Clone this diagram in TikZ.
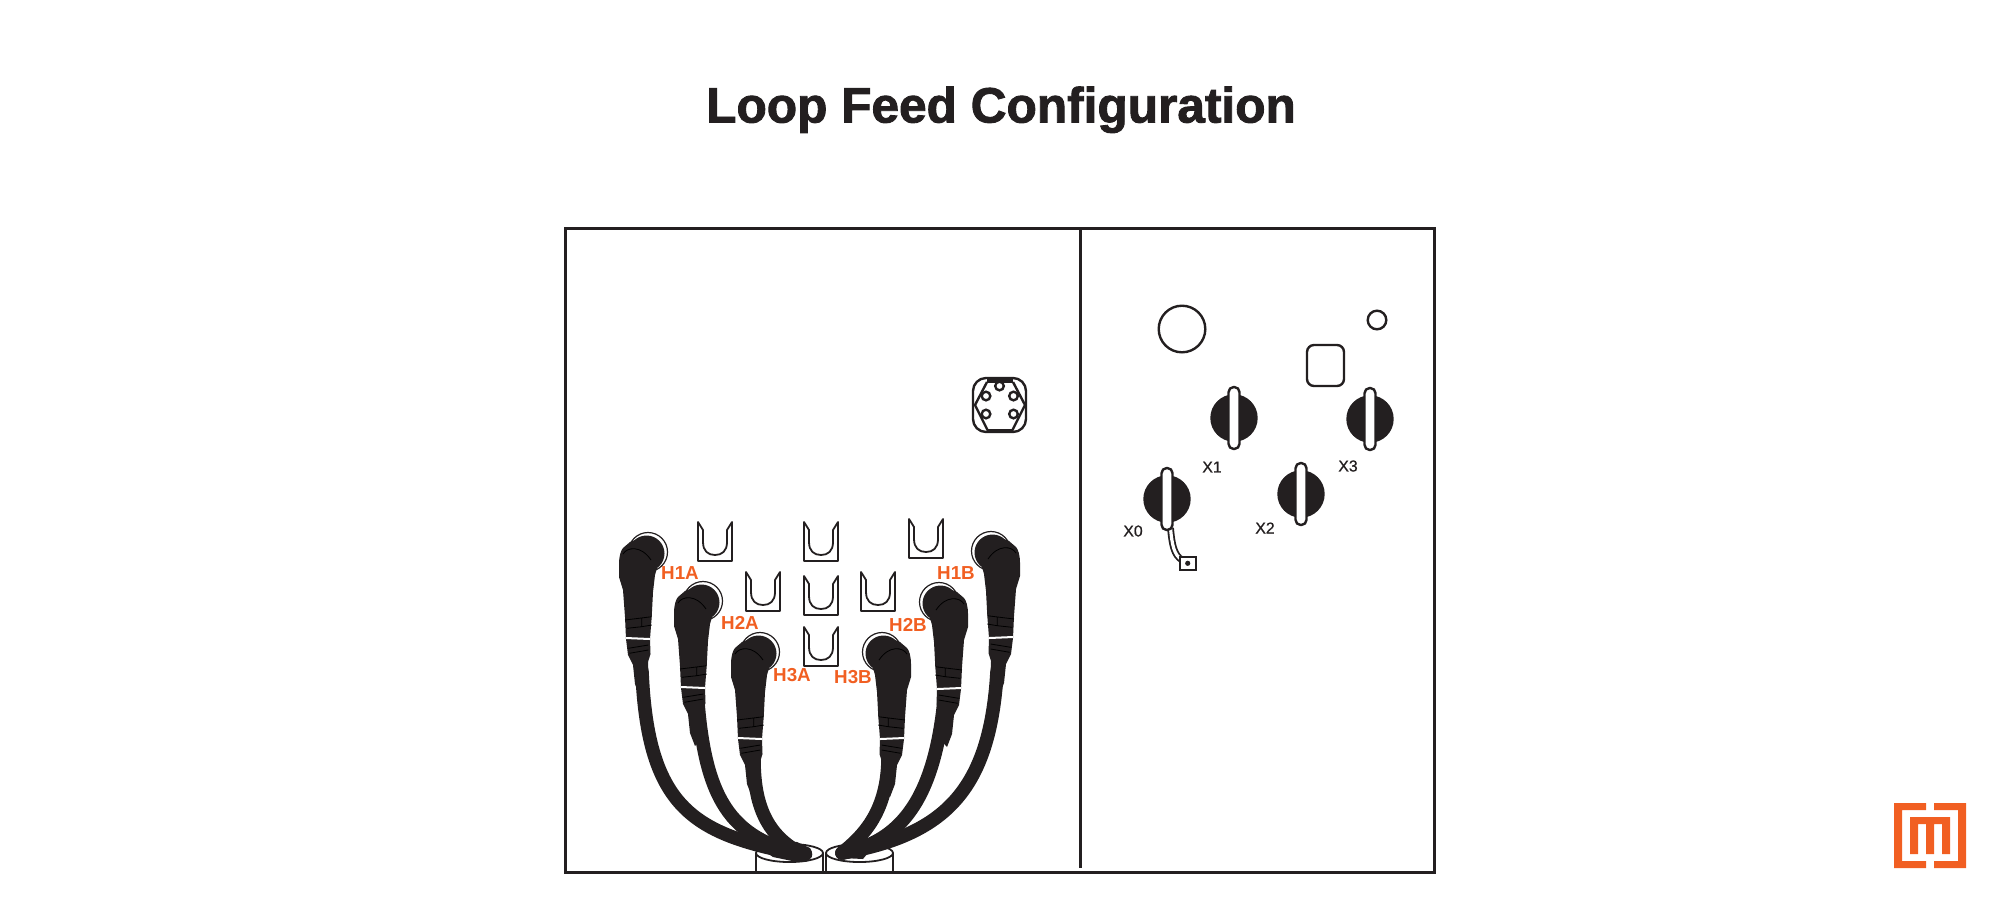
\documentclass[tikz,border=0pt]{standalone}
\usepackage{fontspec}
\setmainfont{Liberation Sans}
\newfontfamily\titlefont{Liberation Sans Bold}[FakeBold=1.8]
\newfontfamily\xtagfont{Liberation Sans}[FakeBold=0.8]
\usetikzlibrary{positioning}

\definecolor{inkblack}{HTML}{231F20}
\definecolor{tagorange}{HTML}{F15F22}

\tikzset{
  panel/.style={draw=inkblack, line width=1.5pt},
  thinline/.style={draw=inkblack, line width=0.9pt},
  outline/.style={draw=inkblack, line width=1.2pt},
  cable/.style={draw=inkblack, line width=6.8pt, line cap=round},
  htag/.style={text=tagorange, font=\fontsize{9.4}{11}\selectfont\bfseries, inner sep=0pt},
  xtag/.style={text=inkblack, font=\fontsize{7.9}{9}\selectfont\xtagfont, inner sep=0pt},
  ubracket/.pic={
    \draw[thinline, line join=round] (-17,0) -- (-17,-39) -- (-12,-31) -- (-12,-19)
      .. controls (-12,-10) and (-7,-6) .. (0,-6)
      .. controls (7,-6) and (12,-10) .. (12,-19)
      -- (12,-31) -- (17,-39) -- (17,0) -- cycle;
  },
  bushing/.pic={
    \fill[inkblack] (0,0) circle (23.7);
    \draw[outline, fill=white, rounded corners=2.6pt] (-5.5,-31) rectangle (5.5,31);
  },
  plug/.pic={
    \draw[inkblack, line width=0.6pt, fill=white] (1,0) circle (19.5);
    \fill[inkblack] (-0.5,1.5) circle (18);
    \fill[inkblack] (-28,12) .. controls (-28,4) and (-26,-2) .. (-24,-4) -- (-17,-10) -- (-4,-15)
      -- (10,16) -- (8,23) -- (6,40) -- (4.7,65) -- (3,87) -- (3.5,102) -- (1,110) -- (2,135)
      -- (-7,145) -- (-12,132) -- (-14,113) -- (-19,103) -- (-21,87) -- (-22,65)
      -- (-24,38) -- (-28,25) -- cycle;
    \draw[black, line width=0.4pt] (-24,2) .. controls (-20,-5) and (-6,-7) .. (4,8);
    \draw[black, line width=0.4pt] (-22,68) -- (4.7,64.7) (-20.3,76.3) -- (-5.3,74.7) -- (4.7,73) (-5.3,66.3) -- (-5.3,74.7);
    \draw[black, line width=0.4pt] (-18.7,96.3) -- (1.3,93) (-17.7,101.3) -- (1.3,98);
    \draw[white, line width=1pt] (-21,86) -- (3,87);
  },
}

\begin{document}
\begin{tikzpicture}[x=0.5pt, y=-0.5pt]
  \useasboundingbox (0,0) rectangle (2000,902);

  \node[anchor=base, text=inkblack, inner sep=0pt] (title) at (1001,122.5) {\fontsize{24.8}{28}\selectfont\titlefont Loop Feed Configuration};

  % cylinders under the tails
  \draw[thinline] (756,872) -- (756,853) (823,853) -- (823,872);
  \draw[thinline] (789.5,853) ellipse (33.5 and 9);
  \draw[thinline] (826,872) -- (826,853) (893,853) -- (893,872);
  \draw[thinline] (859.5,853) ellipse (33.5 and 9);

  \coordinate (tailH1A) at (642,672);
  \coordinate (tailH2A) at (697,690);
  \coordinate (tailH3A) at (754,760);
  \coordinate (tailH1B) at (997,672);
  \coordinate (tailH2B) at (945,690);
  \coordinate (tailH3B) at (888,760);
  \coordinate (endA) at (804,855);
  \coordinate (endB) at (842,853);

  \draw[cable] (tailH1A) .. controls (648,810) and (695,835) .. (endA);
  \draw[cable] (tailH2A) .. controls (704,800) and (730,838) .. (endA);
  \draw[cable] (tailH3A) .. controls (754,810) and (770,838) .. (endA);
  \draw[cable] (tailH1B) .. controls (990,790) and (945,835) .. (endB);
  \draw[cable] (tailH2B) .. controls (936,800) and (900,842) .. (endB);
  \draw[cable] (tailH3B) .. controls (887,815) and (860,838) .. (endB);

  \fill[inkblack] (745,838) -- (797,842) -- (810,848) .. controls (813,852) and (813,857) .. (810,859)
    -- (797,862) -- (773,857) -- cycle;
  \fill[inkblack] (880,838) -- (845,843) .. controls (839,847) and (835,851) .. (836,855)
    -- (843,858) -- (863,859) -- cycle;

  \pic at (647,552) {plug};
  \pic at (702,601) {plug};
  \pic at (759,652) {plug};
  \pic[xscale=-1] at (992,551) {plug};
  \pic[xscale=-1] at (940,602) {plug};
  \pic[xscale=-1] at (883,652) {plug};

  \pic at (715,561) {ubracket};
  \pic at (821,561) {ubracket};
  \pic at (926,558) {ubracket};
  \pic at (763,611) {ubracket};
  \pic at (821,615) {ubracket};
  \pic at (878,611) {ubracket};
  \pic at (821,666) {ubracket};

  \node[htag] (H1A) at (680,573) {H1A};
  \node[htag] (H2A) at (740,623) {H2A};
  \node[htag] (H3A) at (792,675) {H3A};
  \node[htag] (H3B) at (853,677) {H3B};
  \node[htag] (H2B) at (908,625) {H2B};
  \node[htag] (H1B) at (956,573) {H1B};

  % panel outline on top of the cylinders
  \draw[panel] (565,228) rectangle (1434,872);
  \draw[panel] (1080,228) -- (1080,868);

  % connector block
  \draw[outline, rounded corners=6.5pt] (973,378) rectangle (1026,432);
  \draw[outline] (987,382) -- (975,405) -- (988,431) (1012,431) -- (1025,405) -- (1013,382);
  \draw[inkblack, line width=1.6pt] (987,381) -- (1013,381) (988,430.5) -- (1012,430.5);
  \draw[outline, fill=white] (999.5,386) circle (4.3);
  \draw[outline, fill=white] (986,396) circle (4.3);
  \draw[outline, fill=white] (1013.5,396) circle (4.3);
  \draw[outline, fill=white] (986,414) circle (4.3);
  \draw[outline, fill=white] (1013.5,414) circle (4.3);

  % right hand side
  \draw[outline] (1182,329) circle (23.3);
  \draw[outline] (1377,320) circle (9.3);
  \draw[outline, rounded corners=3.5pt] (1307,345) rectangle (1344,386);

  % lead and ground lug
  \coordinate (leadtop) at (1170.5,528);
  \coordinate (lug) at (1182,560);
  \draw[inkblack, line width=3.4pt] (leadtop) .. controls (1172,545) and (1174,555) .. (lug);
  \draw[white, line width=1.6pt] (leadtop) .. controls (1172,545) and (1174,555) .. (lug);
  \draw[outline, fill=white] (1180,557) rectangle (1196,570);
  \fill[inkblack] (1187.7,563.3) circle (2.6);

  \pic at (1234,418) {bushing};
  \pic at (1370,419) {bushing};
  \pic at (1301,494) {bushing};
  \pic at (1167,499) {bushing};

  \node[xtag] (X1) at (1212,467) {X1};
  \node[xtag] (X3) at (1348,466) {X3};
  \node[xtag] (X2) at (1265,528) {X2};
  \node[xtag] (X0) at (1133,531) {X0};

  % logo
  \fill[tagorange] (1894,803) -- (1926,803) -- (1926,810) -- (1902,810) -- (1902,861) -- (1926,861) -- (1926,868) -- (1894,868) -- cycle;
  \fill[tagorange] (1966,803) -- (1934,803) -- (1934,810) -- (1958,810) -- (1958,861) -- (1934,861) -- (1934,868) -- (1966,868) -- cycle;
  \fill[tagorange] (1910,817) -- (1950,817) -- (1950,854) -- (1942,854) -- (1942,824) -- (1934,824) -- (1934,854) -- (1926,854) -- (1926,824) -- (1918,824) -- (1918,854) -- (1910,854) -- cycle;
\end{tikzpicture}
\end{document}
